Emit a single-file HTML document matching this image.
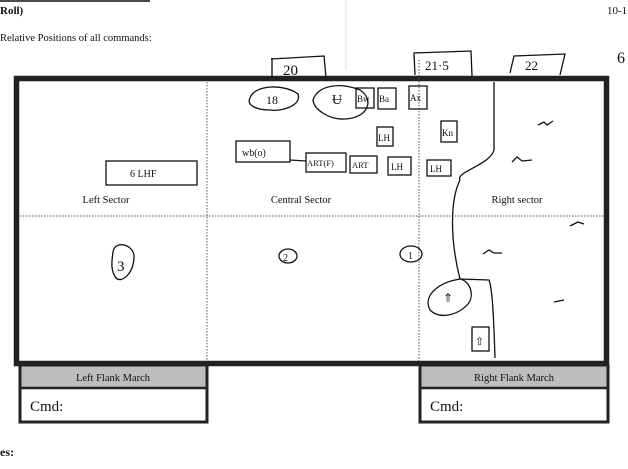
<!DOCTYPE html>
<html><head><meta charset="utf-8"><style>
body{margin:0;background:#fff;width:628px;height:469px;overflow:hidden}
svg{display:block}
text{font-family:"Liberation Serif",serif;fill:#111}
.h{font-family:"Liberation Sans",sans-serif;fill:none;stroke:#111;stroke-width:1.3}
</style></head><body>
<svg width="628" height="469" viewBox="0 0 628 469" xmlns="http://www.w3.org/2000/svg">
<line x1="0" y1="1" x2="150" y2="1" stroke="#111" stroke-width="1.5"/>
<text x="0" y="14" font-size="11" font-weight="bold">Roll)</text>
<text x="607" y="14" font-size="11">10-1</text>
<text x="0" y="41" font-size="10.5">Relative Positions of all commands:</text>
<text x="0" y="456" font-size="12" font-weight="bold">es:</text>
<text x="617" y="63" font-size="16" font-family="Liberation Sans">6</text>
<line x1="346" y1="0" x2="346" y2="70" stroke="#ddd" stroke-width="1"/>
<!-- main box -->
<rect x="16.5" y="78.5" width="590" height="285" fill="none" stroke="#222" stroke-width="5.5"/>
<line x1="207" y1="82" x2="207" y2="361" stroke="#555" stroke-width="1" stroke-dasharray="1.5,1.5"/>
<line x1="419" y1="60" x2="419" y2="361" stroke="#555" stroke-width="1" stroke-dasharray="1.5,1.5"/>
<line x1="20" y1="216" x2="604" y2="216" stroke="#555" stroke-width="1" stroke-dasharray="1.5,1.5"/>
<text x="106" y="203" font-size="10.5" text-anchor="middle">Left Sector</text>
<text x="301" y="203" font-size="10.5" text-anchor="middle">Central Sector</text>
<text x="517" y="203" font-size="10.5" text-anchor="middle">Right sector</text>
<!-- flank boxes -->
<rect x="20" y="365" width="187" height="57" fill="#fff" stroke="#222" stroke-width="3"/>
<rect x="21.5" y="366.5" width="184" height="21" fill="#bdbdbd"/>
<line x1="20" y1="388" x2="207" y2="388" stroke="#222" stroke-width="2.5"/>
<text x="113" y="381" font-size="10.5" text-anchor="middle">Left Flank March</text>
<text x="30" y="411" font-size="15">Cmd:</text>
<rect x="420" y="365" width="188" height="57" fill="#fff" stroke="#222" stroke-width="3"/>
<rect x="421.5" y="366.5" width="185" height="21" fill="#bdbdbd"/>
<line x1="420" y1="388" x2="608" y2="388" stroke="#222" stroke-width="2.5"/>
<text x="514" y="381" font-size="10.5" text-anchor="middle">Right Flank March</text>
<text x="430" y="411" font-size="15">Cmd:</text>
<!-- handwriting -->
<g class="h">
<path d="M272 58 L272 78 M271 59 L324 56 L326 78"/>
<path d="M415 75 L414 53 L471 51 L472 76"/>
<path d="M510 73 L514 56 L565 54 L560 75"/>
<path d="M250 98 C255 84 285 84 298 94 C302 106 280 112 270 110 C258 110 246 106 250 98Z"/>
<path d="M313 100 C318 85 340 82 360 90 C375 100 368 118 345 119 C330 120 314 110 313 100Z"/>
<rect x="356" y="88" width="18" height="20"/>
<rect x="378" y="88" width="18" height="21"/>
<rect x="409" y="86" width="18" height="23"/>
<rect x="377" y="127" width="16" height="19"/>
<rect x="441" y="121" width="16" height="21"/>
<rect x="236" y="141" width="54" height="21"/>
<line x1="290" y1="160" x2="306" y2="161"/>
<rect x="306" y="153" width="40" height="19"/>
<rect x="350" y="156" width="27" height="17"/>
<rect x="388" y="157" width="23" height="18"/>
<rect x="427" y="160" width="24" height="16"/>
<rect x="106" y="161" width="91" height="24"/>
<path d="M113 252 C115 240 132 244 134 255 C135 272 122 284 116 278 C110 270 112 260 113 252Z"/>
<ellipse cx="288" cy="256" rx="9" ry="7"/>
<ellipse cx="411" cy="254" rx="11" ry="8"/>
<path d="M460 180 C455 172 490 165 494 150 L494 82"/>
<path d="M460 180 C450 200 450 240 460 279 L489 280 C493 290 494 330 495 358"/>
<path d="M460 279 C440 282 422 295 430 310 C440 320 458 315 468 304 C475 295 470 281 460 279Z"/>
<rect x="472" y="327" width="17" height="24"/>
<path d="M538 125 l6 -3 l3 3 l6 -4 M512 162 l5 -5 l5 4 l10 -1 M570 226 l8 -4 l6 2 M483 254 l6 -4 l5 3 l8 0 M554 302 l10 -2"/>
</g>
<g font-family="Liberation Sans" font-size="9" fill="#111">
<text x="283" y="75" font-size="15">20</text>
<text x="425" y="70" font-size="13">21·5</text>
<text x="525" y="70" font-size="13">22</text>
<text x="266" y="104" font-size="12">18</text>
<text x="332" y="104" font-size="14">Ʉ</text>
<text x="357" y="102">Bw</text>
<text x="379" y="102">Ba</text>
<text x="410" y="101">Ax</text>
<text x="378" y="141">LH</text>
<text x="442" y="136">Kn</text>
<text x="242" y="156" font-size="10">wb(o)</text>
<text x="307" y="166" font-size="8.5">ART(F)</text>
<text x="352" y="168" font-size="8.5">ART</text>
<text x="391" y="170">LH</text>
<text x="430" y="172">LH</text>
<text x="130" y="177" font-size="10">6 LHF</text>
<text x="117" y="271" font-size="15">3</text>
<text x="283" y="261" font-size="10">2</text>
<text x="408" y="259" font-size="10">1</text>
<text x="443" y="302" font-size="12">⇑</text>
<text x="475" y="345" font-size="11">⇧</text>
</g>
</svg>
</body></html>
